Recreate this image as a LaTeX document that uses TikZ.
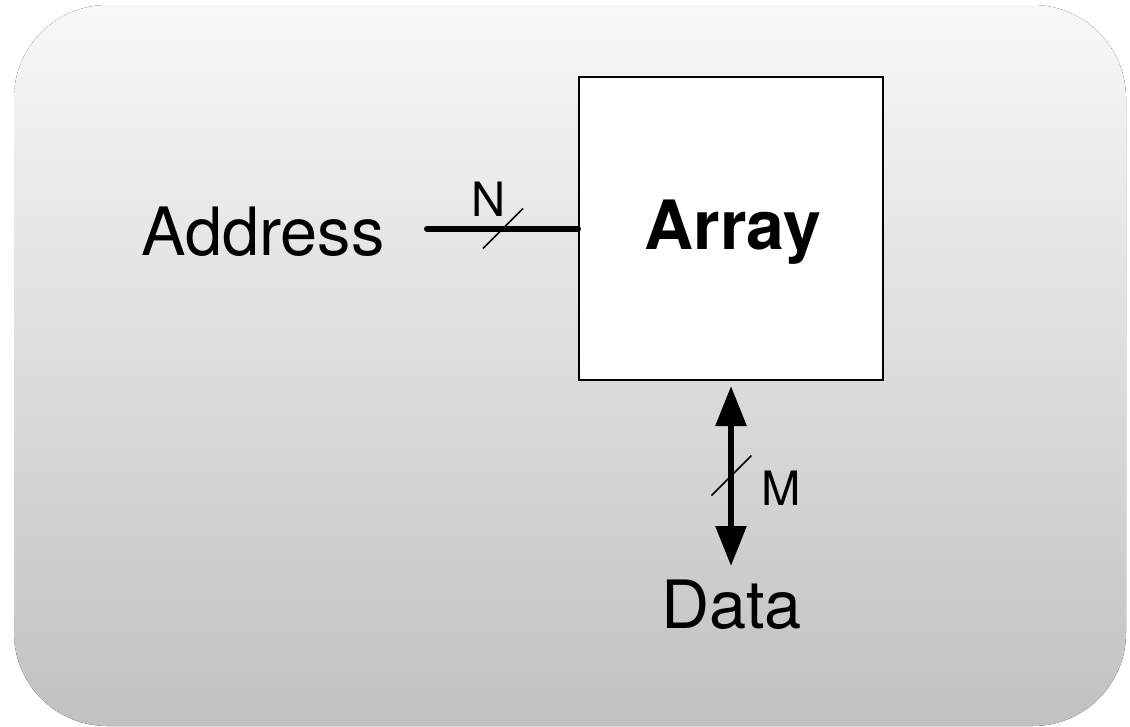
\documentclass[tikz,border=0pt]{standalone}
\usepackage{fontspec}
\setmainfont{TeX Gyre Heros}
\usetikzlibrary{arrows.meta}
\definecolor{bgtop}{HTML}{F8F8F8}
\definecolor{bgbottom}{HTML}{C1C1C1}
\tikzset{
  panel/.style={top color=bgtop, bottom color=bgbottom, rounded corners=70pt},
  memblock/.style={draw, fill=white, line width=1.5pt,
    minimum width=228pt, minimum height=227.25pt, inner sep=0pt},
  biglabel/.style={font=\fontsize{50}{60}\selectfont, inner sep=0pt},
  buslabel/.style={font=\fontsize{35.5}{42}\selectfont, inner sep=0pt},
  wire/.style={line width=4.5pt},
  busslash/.style={line width=1.2pt},
  bigtip/.style={{Triangle[length=30pt,width=22.5pt]}-{Triangle[length=30pt,width=22.5pt]}}
}
\begin{document}
\begin{tikzpicture}[x=0.75pt,y=-0.75pt]
  \useasboundingbox (0,0) rectangle (1130,726);
  % rounded shaded panel
  \fill[panel] (14,5) rectangle (1126,726);

  % memory array block
  \node[memblock] (arr) at (731,228.5) {};
  \node[biglabel, anchor=base, font=\fontsize{51}{60}\selectfont\bfseries] (arrlabel) at (733,249) {Array};

  % address input bus
  \node[biglabel, anchor=base west] (addr) at (141,255) {Address};
  \coordinate (addrstart) at (427,228.7);
  \draw[wire, line cap=round] (addrstart) -- (addrstart -| arr.west);
  \coordinate (nslash) at (503,228.5);
  \draw[busslash] ([shift={(-20,20)}]nslash) -- ([shift={(20,-20)}]nslash);
  \node[buslabel, anchor=base] (nlab) at (489,216) {N};

  % bidirectional data bus
  \node[biglabel, anchor=base] (data) at (731.5,628) {Data};
  \coordinate (dataend) at (731,566);
  \draw[wire, bigtip] ([yshift=-3.75pt]arr.south) -- (dataend);
  \coordinate (mslash) at (731.5,475.5);
  \draw[busslash] ([shift={(-20,20)}]mslash) -- ([shift={(20,-20)}]mslash);
  \node[buslabel, anchor=base west] (mlab) at (761,505) {M};
\end{tikzpicture}
\end{document}
